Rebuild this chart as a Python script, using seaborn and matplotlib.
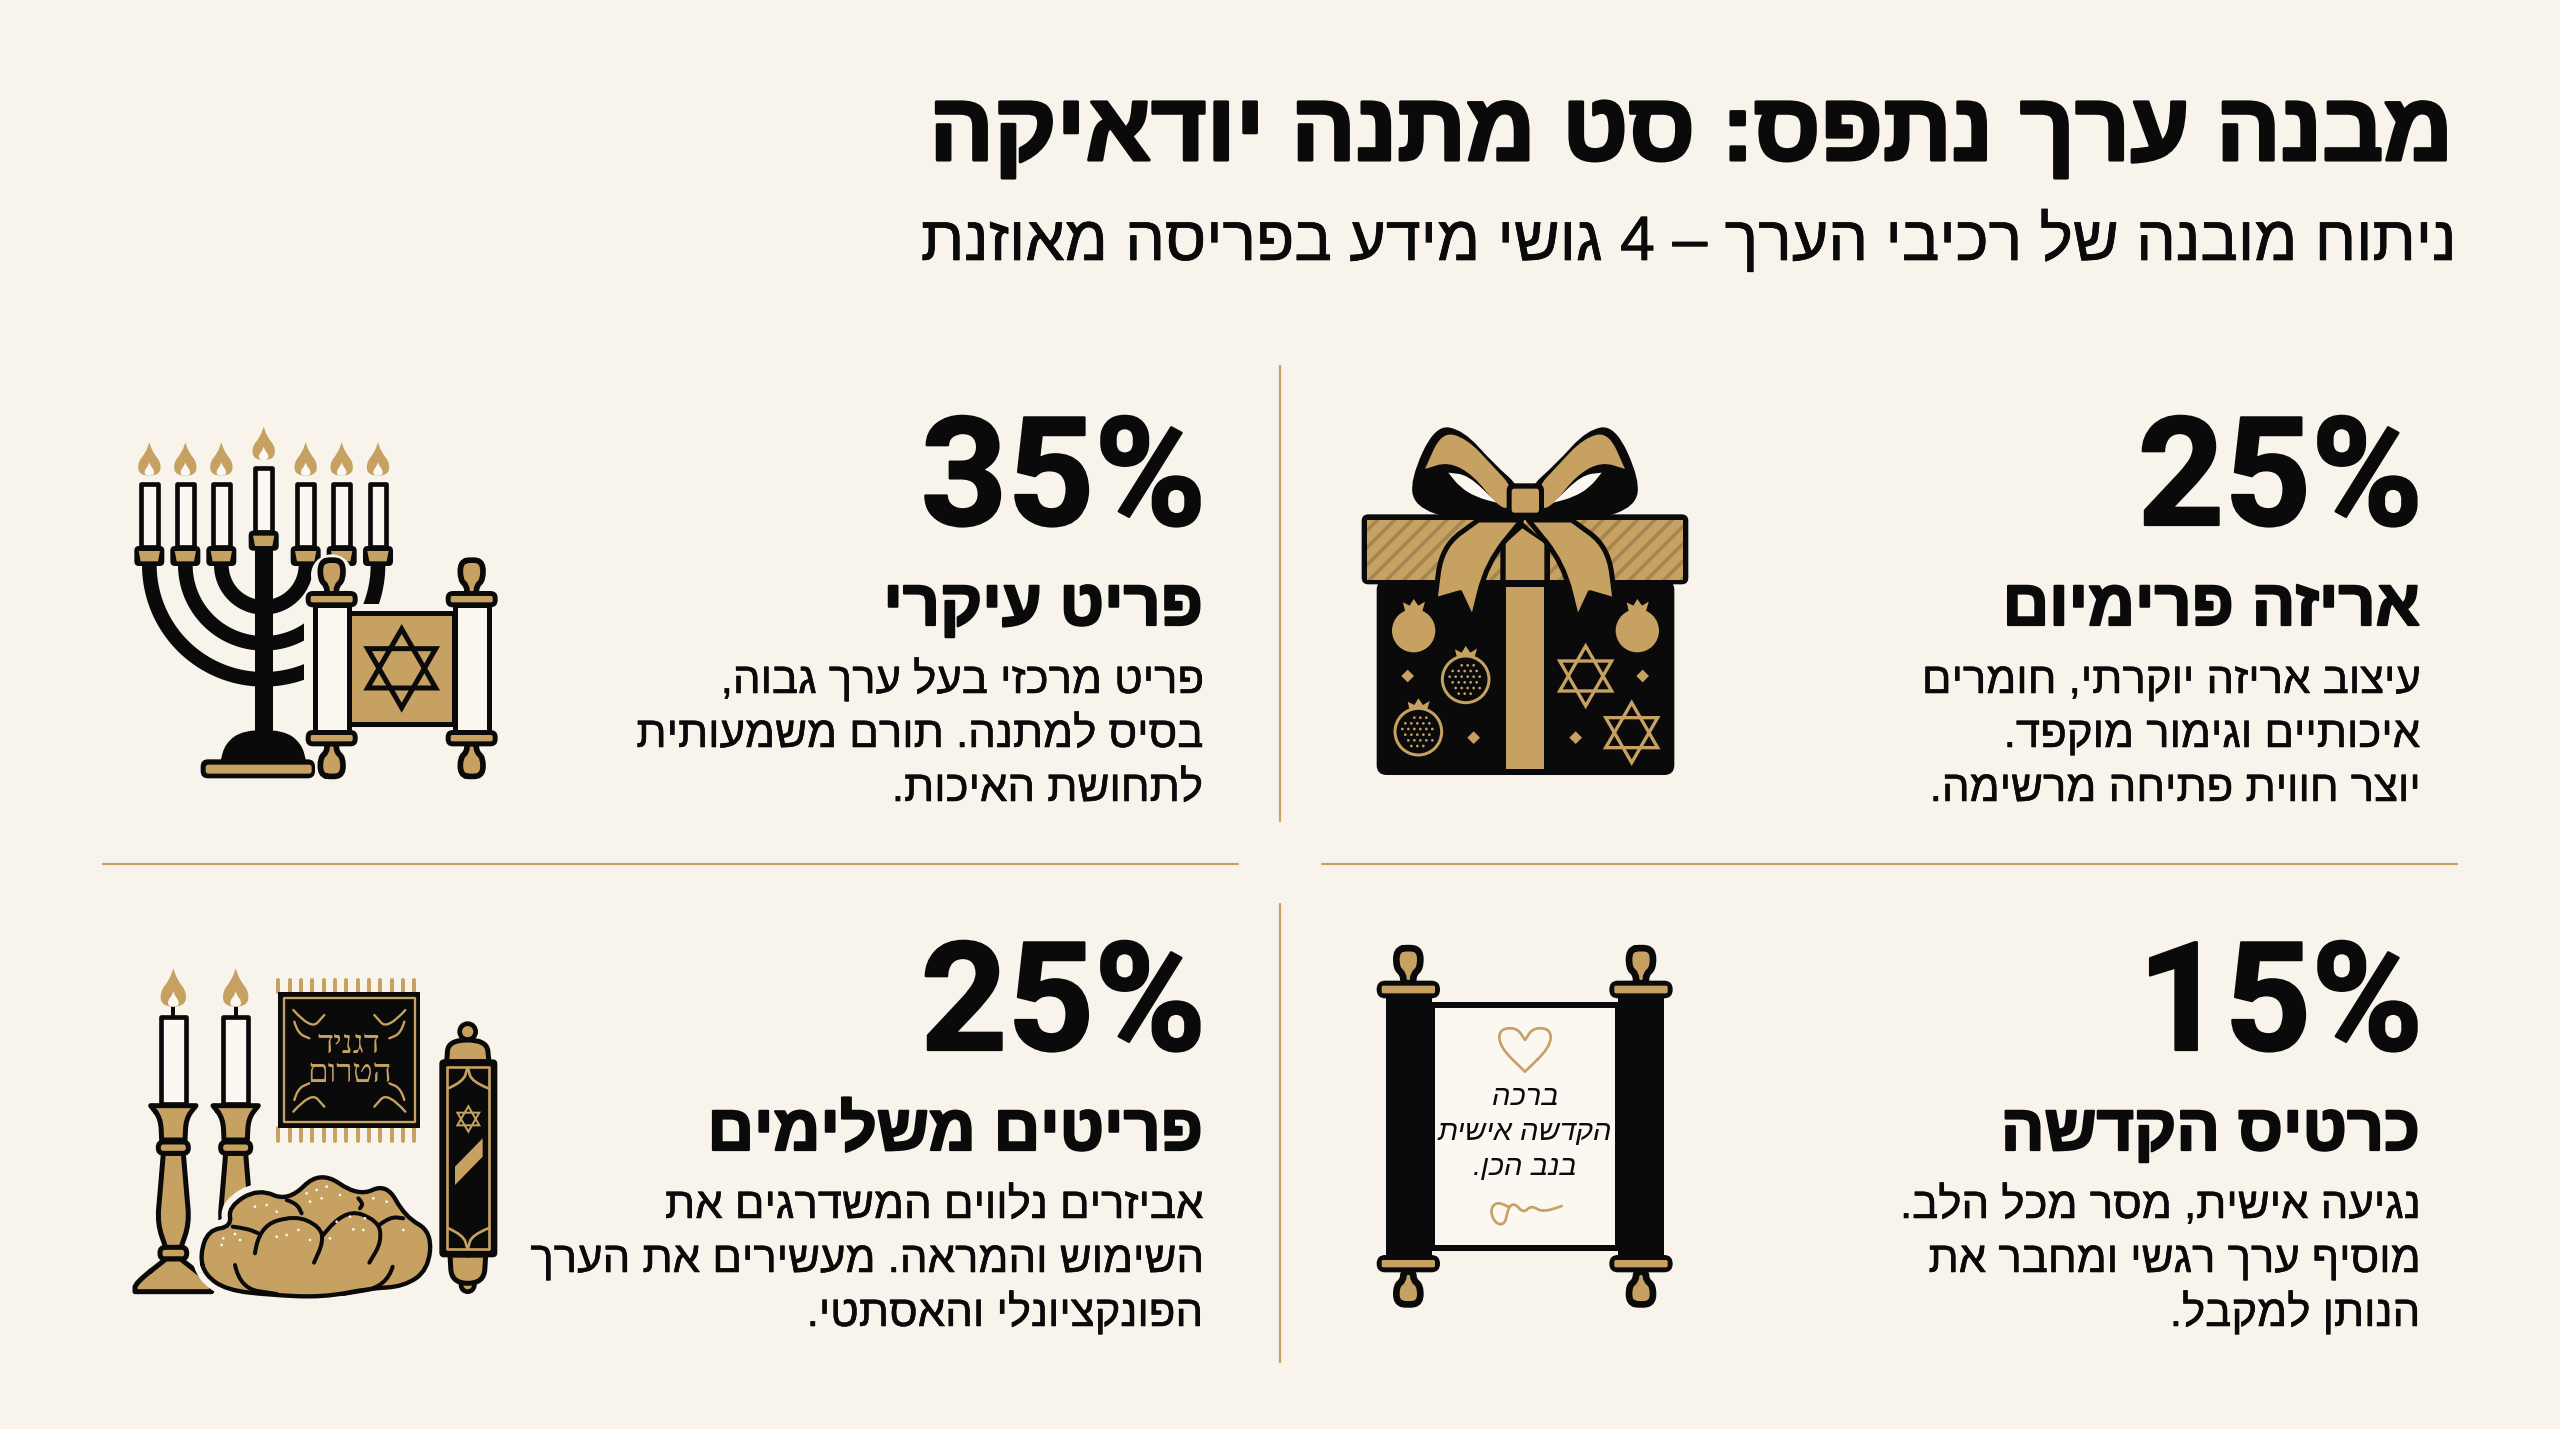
import matplotlib
matplotlib.use("Agg")
import matplotlib.pyplot as plt
import matplotlib.patheffects as pe
import seaborn as sns
import numpy as np
from matplotlib.lines import Line2D
from matplotlib.patches import Circle, FancyBboxPatch, PathPatch, Polygon, Rectangle
from matplotlib.path import Path
from matplotlib.transforms import Affine2D

# chart content
title = "מבנה ערך נתפס: סט מתנה יודאיקה"
subtitle = "ניתוח מובנה של רכיבי הערך – 4 גושי מידע בפריסה מאוזנת"
shares = [25, 35, 15, 25]
headings = ["אריזה פרימיום", "פריט עיקרי", "כרטיס הקדשה", "פריטים משלימים"]
body_1 = ["עיצוב אריזה יוקרתי, חומרים", "איכותיים וגימור מוקפד.", "יוצר חווית פתיחה מרשימה."]
body_2 = ["פריט מרכזי בעל ערך גבוה,", "בסיס למתנה. תורם משמעותית", "לתחושת האיכות."]
body_3 = ["נגיעה אישית, מסר מכל הלב.", "מוסיף ערך רגשי ומחבר את", "הנותן למקבל."]
body_4 = ["אביזרים נלווים המשדרגים את", "השימוש והמראה. מעשירים את הערך", "הפונקציונלי והאסתטי."]
card_text = ["ברכה", "הקדשה אישית", "בנב הכן."]
cloth_text = ["דגניד", "הטרום"]

BG = "#F8F4EC"
GOLD = "#C6A162"
DARK_GOLD = "#A58650"
INK = "#0A0A0A"
PAPER = "#FBF8F2"

sns.set_theme(style="white", rc={"figure.facecolor": BG, "axes.facecolor": BG})
plt.rcParams["font.family"] = ["Liberation Sans", "DejaVu Sans"]

fig = plt.figure(figsize=(25.6, 14.29), dpi=100)
ax = fig.add_axes([0, 0, 1, 1])
ax.set_xlim(0, 2560)
ax.set_ylim(1429, 0)
ax.set_axis_off()


def vis(s):
    # matplotlib has no bidi, so Hebrew goes in visual order
    return s[::-1]


def heavy(w):
    # the reference type is heavier than Liberation Bold
    return [pe.withStroke(linewidth=w, foreground=INK)]


# icon helpers, coordinates are in 3x crop units
tf = None


def icon(ox, oy):
    global tf
    tf = Affine2D().scale(1 / 3).translate(ox, oy) + ax.transData


def lw(z):
    return z / 3 * 0.72


def smooth(pts, closed=True):
    pts = [np.array(p, float) for p in pts]
    if closed:
        verts = [(pts[-1] + pts[0]) / 2]
        codes = [Path.MOVETO]
        for i, p in enumerate(pts):
            verts += [p, (p + pts[(i + 1) % len(pts)]) / 2]
            codes += [Path.CURVE3, Path.CURVE3]
    else:
        verts = [pts[0]]
        codes = [Path.MOVETO]
        for i in range(1, len(pts) - 1):
            verts += [pts[i], (pts[i] + pts[i + 1]) / 2]
            codes += [Path.CURVE3, Path.CURVE3]
        verts.append(pts[-1])
        codes.append(Path.LINETO)
    return Path(verts, codes)


def blob(pts, fc=GOLD, ec=INK, w=0, z=2, closed=True):
    p = PathPatch(smooth(pts, closed), fc=fc, ec=ec, lw=lw(w), transform=tf, zorder=z,
                  joinstyle="round", capstyle="round")
    ax.add_patch(p)
    return p


def curve(pts, color=INK, w=12, z=3):
    return blob(pts, fc="none", ec=color, w=w, z=z, closed=False)


def box(x0, y0, x1, y1, fc=GOLD, ec="none", w=0, r=0, z=2):
    if r:
        p = FancyBboxPatch((x0, y0), x1 - x0, y1 - y0, boxstyle=f"round,pad=0,rounding_size={r}",
                           fc=fc, ec=ec, lw=lw(w), transform=tf, zorder=z)
    else:
        p = Rectangle((x0, y0), x1 - x0, y1 - y0, fc=fc, ec=ec, lw=lw(w), transform=tf, zorder=z,
                      joinstyle="round")
    ax.add_patch(p)
    return p


def star(cx, cy, r, color=GOLD, w=10, z=4):
    for start in (-90, 90):
        a = np.radians([start, start + 120, start + 240])
        ax.add_patch(Polygon(np.c_[cx + r * np.cos(a), cy + r * np.sin(a)], closed=True, fc="none",
                             ec=color, lw=lw(w), transform=tf, zorder=z, joinstyle="miter"))


def flame(cx, top, bot, hw, z=3):
    h = bot - top
    for t, b, w_, c in [(top, bot, hw, GOLD), (top + 0.6 * h, bot, hw * 0.42, PAPER)]:
        hh = b - t
        blob([(cx, t), (cx, t), (cx + 0.35 * w_, t + 0.3 * hh), (cx + 1.2 * w_, t + 0.62 * hh),
              (cx + w_, b), (cx - w_, b), (cx - 1.2 * w_, t + 0.62 * hh), (cx - 0.35 * w_, t + 0.3 * hh)],
             fc=c, z=z)


def handle(cx, tip, base, hw=34, w=17, z=5):
    h = base - tip
    blob([(cx, tip - 0.08 * h), (cx + hw, tip), (cx + hw, tip + 0.55 * h), (cx + 0.42 * hw, tip + 0.72 * h),
          (cx + 0.42 * hw, base), (cx - 0.42 * hw, base), (cx - 0.42 * hw, tip + 0.72 * h),
          (cx - hw, tip + 0.55 * h), (cx - hw, tip)], ec=INK, w=w, z=z)


def cap(x0, y0, x1, y1, r=22, z=6):
    box(x0, y0, x1, y1, fc=INK, r=r, z=z)
    box(x0 + 15, y0 + 15, x1 - 15, y1 - 15, fc=GOLD, r=5, z=z + 0.1)


def pomegranate(cx, cy, r, solid):
    crown = [(cx - 32, cy - r - 20), (cx - 12, cy - r - 10), (cx, cy - r - 30), (cx + 14, cy - r - 10),
             (cx + 34, cy - r - 22), (cx + 24, cy - r + 14), (cx - 24, cy - r + 14)]
    ax.add_patch(Polygon(crown, fc=GOLD, ec="none", transform=tf, zorder=4))
    if solid:
        ax.add_patch(Circle((cx, cy), r, fc=GOLD, ec="none", transform=tf, zorder=4))
        return
    ax.add_patch(Circle((cx, cy), r, fc=INK, ec=GOLD, lw=lw(9), transform=tf, zorder=4))
    for i, dy in enumerate(range(-42, 48, 17)):
        for dx in range(-48, 50, 18):
            dx2 = dx + (9 if i % 2 else 0)
            if dx2 ** 2 + dy ** 2 < 50 ** 2:
                ax.add_patch(Circle((cx + dx2, cy + dy), 4, fc=GOLD, ec="none", transform=tf, zorder=5))


# -------- text blocks --------
def block(right, base, share, head, lines):
    ax.text(right + 3, base, f"{share}%", ha="right", va="baseline", fontsize=109, fontweight="bold",
            family="Roboto", color=INK, zorder=10, path_effects=heavy(1.6))
    ax.text(right, base + 100, vis(head), ha="right", va="baseline", fontsize=46.5, fontweight="bold",
            color=INK, zorder=10, path_effects=heavy(1.6))
    for k, line in enumerate(lines):
        ax.text(right, base + 168 + 54 * k, vis(line), ha="right", va="baseline", fontsize=31.5,
                color=INK, zorder=10, path_effects=heavy(0.4))


ax.text(2453, 160, vis(title), ha="right", va="baseline", fontsize=69, fontweight="bold", color=INK,
        path_effects=heavy(2.2))
ax.text(2455, 260, vis(subtitle), ha="right", va="baseline", fontsize=45.2, color=INK,
        path_effects=heavy(0.5))

block(2420, 525, shares[0], headings[0], body_1)
block(1203, 525, shares[1], headings[1], body_2)
block(2420, 1050, shares[2], headings[2], body_3)
block(1203, 1050, shares[3], headings[3], body_4)

# separators
ax.plot([1280, 1280], [366, 821], color=GOLD, lw=1.6)
ax.plot([1280, 1280], [904, 1362], color=GOLD, lw=1.6)
ax.plot([103, 1238], [864, 864], color=GOLD, lw=1.6)
ax.plot([1322, 2457], [864, 864], color=GOLD, lw=1.6)

# -------- gift box --------
icon(1320, 400)
box(170, 540, 1063, 1125, fc=INK, r=30)
box(125, 343, 1105, 553, fc=INK, r=20, z=2.1)
lid = box(140, 360, 1090, 540, fc=GOLD, z=2.2)
for c in range(-60, 1100, 52):
    ln = Line2D([c, c + 180], [540, 360], color=DARK_GOLD, lw=lw(11), transform=tf, zorder=2.3)
    ax.add_line(ln)
    ln.set_clip_path(lid)
box(557, 560, 673, 1108, fc=GOLD, z=3)
ax.add_patch(Polygon([(541, 541), (541, 440), (607, 365), (690, 440), (690, 541)], fc=INK, ec="none",
                     transform=tf, zorder=3))
ax.add_patch(Polygon([(557, 540), (557, 430), (607, 385), (673, 430), (673, 540)], fc=GOLD, ec="none",
                     transform=tf, zorder=3.1))
left_tail = [(605, 360), (605, 360), (475, 360), (475, 360), (365, 440), (345, 600), (345, 600), (420, 578),
             (420, 578), (458, 660), (458, 660), (500, 490)]
blob(left_tail, ec=INK, w=15, z=3.5)
blob([(1230 - x, y) for x, y in left_tail], ec=INK, w=15, z=3.5)
outer = [(270, 240), (345, 75), (430, 90), (520, 190), (610, 270), (600, 360), (400, 360), (285, 320)]
gold_top = [(315, 207), (315, 207), (365, 95), (440, 115), (520, 200), (580, 265), (570, 330), (530, 315),
            (460, 225), (385, 185)]
eye = [(385, 218), (385, 218), (445, 225), (530, 308), (530, 308), (470, 292), (420, 262)]
for pts, col in [(outer, INK), (gold_top, GOLD), (eye, PAPER)]:
    blob(pts, fc=col, z=3.6)
    blob([(1230 - x, y) for x, y in pts], fc=col, z=3.6)
box(560, 250, 672, 352, fc=INK, r=22, z=4)
box(575, 266, 657, 338, fc=GOLD, r=8, z=4.1)
pomegranate(281, 692, 65, True)
pomegranate(952, 692, 65, True)
pomegranate(437, 838, 70, False)
pomegranate(295, 995, 70, False)
star(797, 828, 90)
star(935, 998, 90)
for dx, dy in [(263, 828), (968, 828), (461, 1013), (767, 1013)]:
    ax.add_patch(Polygon([(dx, dy - 19), (dx + 19, dy), (dx, dy + 19), (dx - 19, dy)], fc=GOLD, ec="none",
                         transform=tf, zorder=4))

# -------- menorah and torah --------
icon(110, 400)
th = np.linspace(0, np.pi, 80)
for r in (127, 235, 343):
    ax.add_line(Line2D(461 + r * np.cos(th), 495 + r * np.sin(th), color=INK, lw=lw(44), transform=tf,
                       zorder=2, solid_capstyle="butt"))
box(435, 440, 488, 1030, fc=INK, z=2)
for cx in (118, 226, 334, 461, 587, 695, 804):
    top, bot, cup_y = (198, 395, 392) if cx == 461 else (245, 442, 438)
    box(cx - 25, top + 6, cx + 25, bot, fc=PAPER, ec=INK, w=14, z=2.5)
    box(cx - 45, cup_y, cx + 45, cup_y + 60, fc=INK, r=14, z=2.6)
    blob([(cx - 32, cup_y + 15), (cx - 32, cup_y + 15), (cx + 32, cup_y + 15), (cx + 32, cup_y + 15),
          (cx + 26, cup_y + 46), (cx + 26, cup_y + 46), (cx - 26, cup_y + 46), (cx - 26, cup_y + 46)], z=2.7)
    flame(cx, top - 118, top - 18, 30)
# halo that cuts the menorah behind the scroll
box(583, 612, 1180, 1150, fc=BG, z=2.8)
ax.add_patch(Circle((665, 525), 62, fc=BG, ec="none", transform=tf, zorder=2.8))
blob([(330, 1090), (330, 1090), (345, 1030), (400, 990), (520, 990), (575, 1030), (590, 1090), (590, 1090)],
     fc=INK, z=2.9)
box(272, 1078, 615, 1135, fc=INK, r=22, z=3)
box(287, 1094, 605, 1121, fc=GOLD, r=8, z=3.1)
for cx in (665, 1085):
    handle(cx, 486, 585)
    handle(cx, 1124, 1030)
    cap(cx - 78, 573, cx + 78, 622)
    cap(cx - 78, 990, cx + 78, 1039)
box(718, 640, 1032, 972, fc=GOLD, ec=INK, w=15, z=4)
box(614, 615, 716, 995, fc=PAPER, ec=INK, w=15, z=4.5)
box(1034, 615, 1136, 995, fc=PAPER, ec=INK, w=15, z=4.5)
star(875, 805, 118, color=INK, w=15, z=5)

# -------- card scroll --------
icon(1340, 930)
box(275, 226, 833, 954, fc=PAPER, ec=INK, w=18, z=2)
box(137, 195, 275, 990, fc=INK, z=3)
box(833, 195, 972, 990, fc=INK, z=3)
for cx in (205, 903):
    handle(cx, 60, 160, hw=36, w=20)
    handle(cx, 1118, 1025, hw=36, w=20)
    cap(cx - 95, 152, cx + 95, 205, r=26)
    cap(cx - 95, 975, cx + 95, 1027, r=26)
blob([(555, 425), (555, 425), (480, 352), (476, 298), (530, 292), (555, 330), (555, 330), (580, 292), (634, 298),
      (630, 352)], fc="none", ec=GOLD, w=8, z=4)
for k, line in enumerate(card_text):
    ax.text(555, 525 + 105 * k, vis(line), ha="center", va="baseline", fontsize=21, fontstyle="italic",
            color=INK, transform=tf, zorder=4)
curve([(665, 828), (610, 850), (575, 825), (550, 850), (525, 820), (505, 830), (495, 885), (465, 880), (450, 840),
       (470, 815), (505, 830)], color=GOLD, w=8, z=4)

# -------- shabbat set --------
icon(110, 940)
# candlesticks
for cx, full in ((190, True), (377, False)):
    box(cx - 37, 232, cx + 37, 492, fc=PAPER, ec=INK, w=14, z=2)
    box(cx - 6, 198, cx + 6, 232, fc=INK, z=2)
    flame(cx, 85, 200, 34)
    blob([(cx - 68, 497), (cx - 68, 497), (cx + 68, 497), (cx + 68, 497), (cx + 38, 535), (cx + 35, 600),
          (cx + 35, 600), (cx - 35, 600), (cx - 35, 600), (cx - 38, 535)], ec=INK, w=15, z=2.2)
    blob([(cx - 30, 640), (cx - 30, 640), (cx - 40, 760), (cx - 48, 850), (cx - 22, 925), (cx - 22, 925),
          (cx + 22, 925), (cx + 22, 925), (cx + 48, 850), (cx + 40, 760), (cx + 30, 640), (cx + 30, 640)],
         ec=INK, w=15, z=2.1)
    box(cx - 45, 606, cx + 45, 640, ec=INK, w=15, r=16, z=2.3)
    if full:
        box(cx - 40, 922, cx + 40, 957, ec=INK, w=15, r=16, z=2.3)
        blob([(cx - 22, 957), (cx - 22, 957), (cx + 22, 957), (cx + 22, 957), (cx + 115, 1030), (cx + 115, 1055),
              (cx + 115, 1055), (cx - 115, 1055), (cx - 115, 1055), (cx - 115, 1030)], ec=INK, w=15, z=2.3)

# challah with a pale halo around it
loaf = [(270, 945), (295, 870), (365, 860), (355, 800), (445, 745), (535, 785), (630, 690), (745, 770), (830, 730),
        (885, 830), (965, 875), (955, 990), (880, 1040), (780, 1045), (640, 1072), (480, 1065), (350, 1050), (285, 1005)]
blob(loaf, fc=BG, ec=BG, w=50, z=3)
blob(loaf, fc=GOLD, ec=INK, w=13, z=3.1)
for pts in [[(435, 940), (445, 860), (555, 825), (630, 860), (640, 905), (612, 968)],
            [(640, 885), (700, 805), (805, 840), (815, 905), (778, 968)],
            [(808, 855), (840, 830), (880, 835)],
            [(368, 860), (410, 865), (445, 880)],
            [(530, 780), (560, 790), (575, 820)],
            [(745, 775), (760, 790), (750, 805)],
            [(375, 975), (390, 1045), (500, 1062)],
            [(848, 980), (830, 1040), (700, 1062)]]:
    curve(pts, w=12, z=3.2)
for sx, sy in [(340, 895), (375, 882), (390, 900), (435, 800), (470, 795), (500, 815), (500, 890), (530, 885), (565, 870),
               (600, 900), (590, 760), (620, 750), (650, 740), (690, 765), (600, 785), (635, 775), (680, 845), (720, 830),
               (765, 835), (760, 870), (730, 868), (790, 775), (830, 785), (880, 870), (660, 895), (335, 915)]:
    ax.add_patch(Circle((sx, sy), 4, fc=PAPER, ec="none", transform=tf, zorder=3.3))

# cloth
for fx in range(505, 945, 34):
    ax.add_line(Line2D([fx, fx], [120, 155], color=GOLD, lw=lw(12), transform=tf, zorder=2))
    ax.add_line(Line2D([fx, fx], [565, 602], color=GOLD, lw=lw(12), transform=tf, zorder=2))
box(505, 155, 930, 565, fc=INK, z=2.5)
box(523, 173, 914, 547, fc="none", ec=GOLD, w=7, z=2.6)
for sx, sy in [(1, 1), (-1, 1), (1, -1), (-1, -1)]:
    cx, cy = (718 - sx * 150, 360 - sy * 110 + (0 if sy > 0 else 5))
    curve([(cx - sx * 18, cy - sy * 40), (cx + sx * 35, cy + sy * 20), (cx + sx * 75, cy - sy * 25)], color=GOLD, w=7, z=2.7)
    curve([(cx - sx * 15, cy - sy * 5), (cx - sx * 5, cy + sy * 30), (cx + sx * 30, cy + sy * 45)], color=GOLD, w=7, z=2.7)
for k, line in enumerate(cloth_text):
    ax.text(718, 340 + 85 * k, vis(line), ha="center", va="baseline", fontsize=24, family="Liberation Serif",
            color=GOLD, transform=tf, zorder=2.7)

# mezuzah
ax.add_patch(Circle((1073, 275), 24, fc=GOLD, ec=INK, lw=lw(14), transform=tf, zorder=2))
ax.add_patch(Circle((1073, 1035), 20, fc=GOLD, ec=INK, lw=lw(14), transform=tf, zorder=2))
blob([(1010, 365), (1010, 365), (1015, 300), (1130, 300), (1137, 365), (1137, 365)], ec=INK, w=15, z=2.1)
blob([(1020, 945), (1020, 945), (1025, 1030), (1122, 1030), (1127, 945), (1127, 945)], ec=INK, w=15, z=2.1)
box(988, 358, 1162, 952, fc=INK, r=14, z=2.5)
box(1012, 382, 1136, 928, fc="none", ec=GOLD, w=8, z=2.6)
curve([(1015, 445), (1060, 425), (1072, 385)], color=GOLD, w=8, z=2.6)
curve([(1135, 445), (1085, 425), (1074, 385)], color=GOLD, w=8, z=2.6)
curve([(1015, 865), (1060, 885), (1072, 925)], color=GOLD, w=8, z=2.6)
curve([(1135, 865), (1085, 885), (1074, 925)], color=GOLD, w=8, z=2.6)
star(1075, 537, 38, w=6, z=2.7)
ax.add_patch(Polygon([(1035, 680), (1118, 595), (1118, 650), (1035, 735)], fc=GOLD, ec="none", transform=tf, zorder=2.7))

sns.despine(ax=ax, left=True, bottom=True)
fig.savefig("out.png", dpi=100, facecolor=BG)
